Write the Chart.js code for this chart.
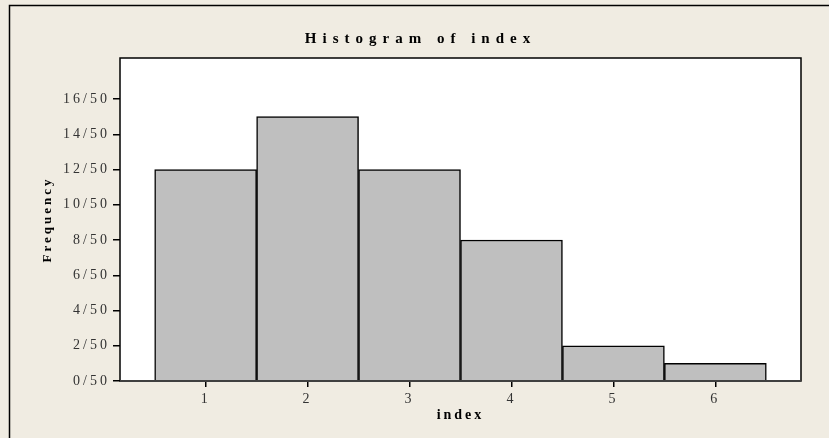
<!DOCTYPE html>
<html>
<head>
<meta charset="utf-8">
<script src="https://cdn.jsdelivr.net/npm/chart.js@4.4.1/dist/chart.umd.min.js"></script>
<style>
  html, body { margin: 0; padding: 0; background: #f0ece2; }
  #wrap { width: 829px; height: 438px; }
</style>
</head>
<body>
<div id="wrap"><canvas id="histChart" width="829" height="438"></canvas></div>
<script>
// histogram data (counts out of 50)
const binCenters = [1, 2, 3, 4, 5, 6];
const counts = [12, 15, 12, 8, 2, 1];
const total = 50;
const yTicks = [0, 2, 4, 6, 8, 10, 12, 14, 16];

const bgColor = '#f0ece2';

// background + outer frame + plot box
const framePlugin = {
    id: 'frame',
    beforeDraw(chart) {
        const c = chart.ctx;
        c.save();
        c.fillStyle = bgColor;
        c.fillRect(0, 0, chart.width, chart.height);
        c.strokeStyle = '#000';
        c.lineWidth = 1.5;
        c.strokeRect(9.5, 5.5, chart.width + 20, chart.height + 20);
        const a = chart.chartArea;
        c.fillStyle = '#fff';
        c.fillRect(a.left, a.top, a.right - a.left, a.bottom - a.top);
        c.restore();
        c.letterSpacing = '3px';
    },
    beforeUpdate(chart) {
        chart.ctx.letterSpacing = '3px';
    },
    afterDatasetsDraw(chart) {
        const c = chart.ctx;
        const a = chart.chartArea;
        c.save();
        c.strokeStyle = '#000';
        c.lineWidth = 1.5;
        c.strokeRect(a.left, a.top, a.right - a.left, a.bottom - a.top);
        c.strokeStyle = '#404040';
        c.lineWidth = 2;
        c.beginPath();
        c.moveTo(a.left, a.bottom);
        c.lineTo(a.right, a.bottom);
        c.stroke();
        c.restore();
    },
    afterInit(chart) {
        // wider spacing for the main title, nudged right like the original
        const tb = chart.titleBlock;
        if (tb) {
            const orig = tb.draw;
            tb.draw = function () {
                const c = chart.ctx;
                c.save();
                c.translate(20, 0);
                c.letterSpacing = '6px';
                orig.call(this);
                c.restore();
            };
        }
    }
};

const ctx = document.getElementById('histChart').getContext('2d');
const histChart = new Chart(ctx, {
    type: 'bar',
    data: {
        datasets: [{
            label: 'index',
            data: binCenters.map((x, i) => ({ x: x, y: counts[i] })),
            backgroundColor: '#bfbfbf',
            borderColor: '#000',
            borderWidth: 1.5,
            barPercentage: 1,
            categoryPercentage: 1
        }]
    },
    options: {
        responsive: false,
        animation: false,
        layout: { padding: { left: 0, right: 28, top: 0, bottom: 0 } },
        plugins: {
            legend: { display: false },
            tooltip: { enabled: false },
            title: {
                display: true,
                text: 'Histogram of index',
                color: '#000',
                font: { family: 'Liberation Serif', size: 15, weight: 'bold' },
                padding: { top: 30, bottom: 10 }
            }
        },
        scales: {
            x: {
                type: 'linear',
                offset: false,
                min: 0.16,
                max: 6.84,
                afterBuildTicks(s) { s.ticks = binCenters.map(v => ({ value: v })); },
                afterFit(s) { s.height = 57; },
                grid: { display: true, offset: false, drawOnChartArea: false, tickLength: 6, color: '#000', lineWidth: 1.5 },
                border: { display: false },
                ticks: {
                    color: '#333',
                    font: { family: 'Liberation Serif', size: 14 },
                    padding: 4,
                    maxRotation: 0
                },
                title: {
                    display: true,
                    text: 'index',
                    color: '#000',
                    font: { family: 'Liberation Serif', size: 14, weight: 'bold' },
                    padding: { top: 0, bottom: 14 }
                }
            },
            y: {
                min: 0,
                max: 18.33,
                afterBuildTicks(s) { s.ticks = yTicks.map(v => ({ value: v })); },
                afterFit(s) { s.width = 120; },
                grid: { display: true, drawOnChartArea: false, tickLength: 7, color: '#000', lineWidth: 1.5 },
                border: { display: false },
                ticks: {
                    color: '#333',
                    font: { family: 'Liberation Serif', size: 14 },
                    padding: 3,
                    callback: v => v + '/' + total
                },
                title: {
                    display: true,
                    text: 'Frequency',
                    color: '#000',
                    font: { family: 'Liberation Serif', size: 13, weight: 'bold' },
                    padding: { top: 40, bottom: 0 }
                }
            }
        }
    },
    plugins: [framePlugin]
});
</script>
</body>
</html>
